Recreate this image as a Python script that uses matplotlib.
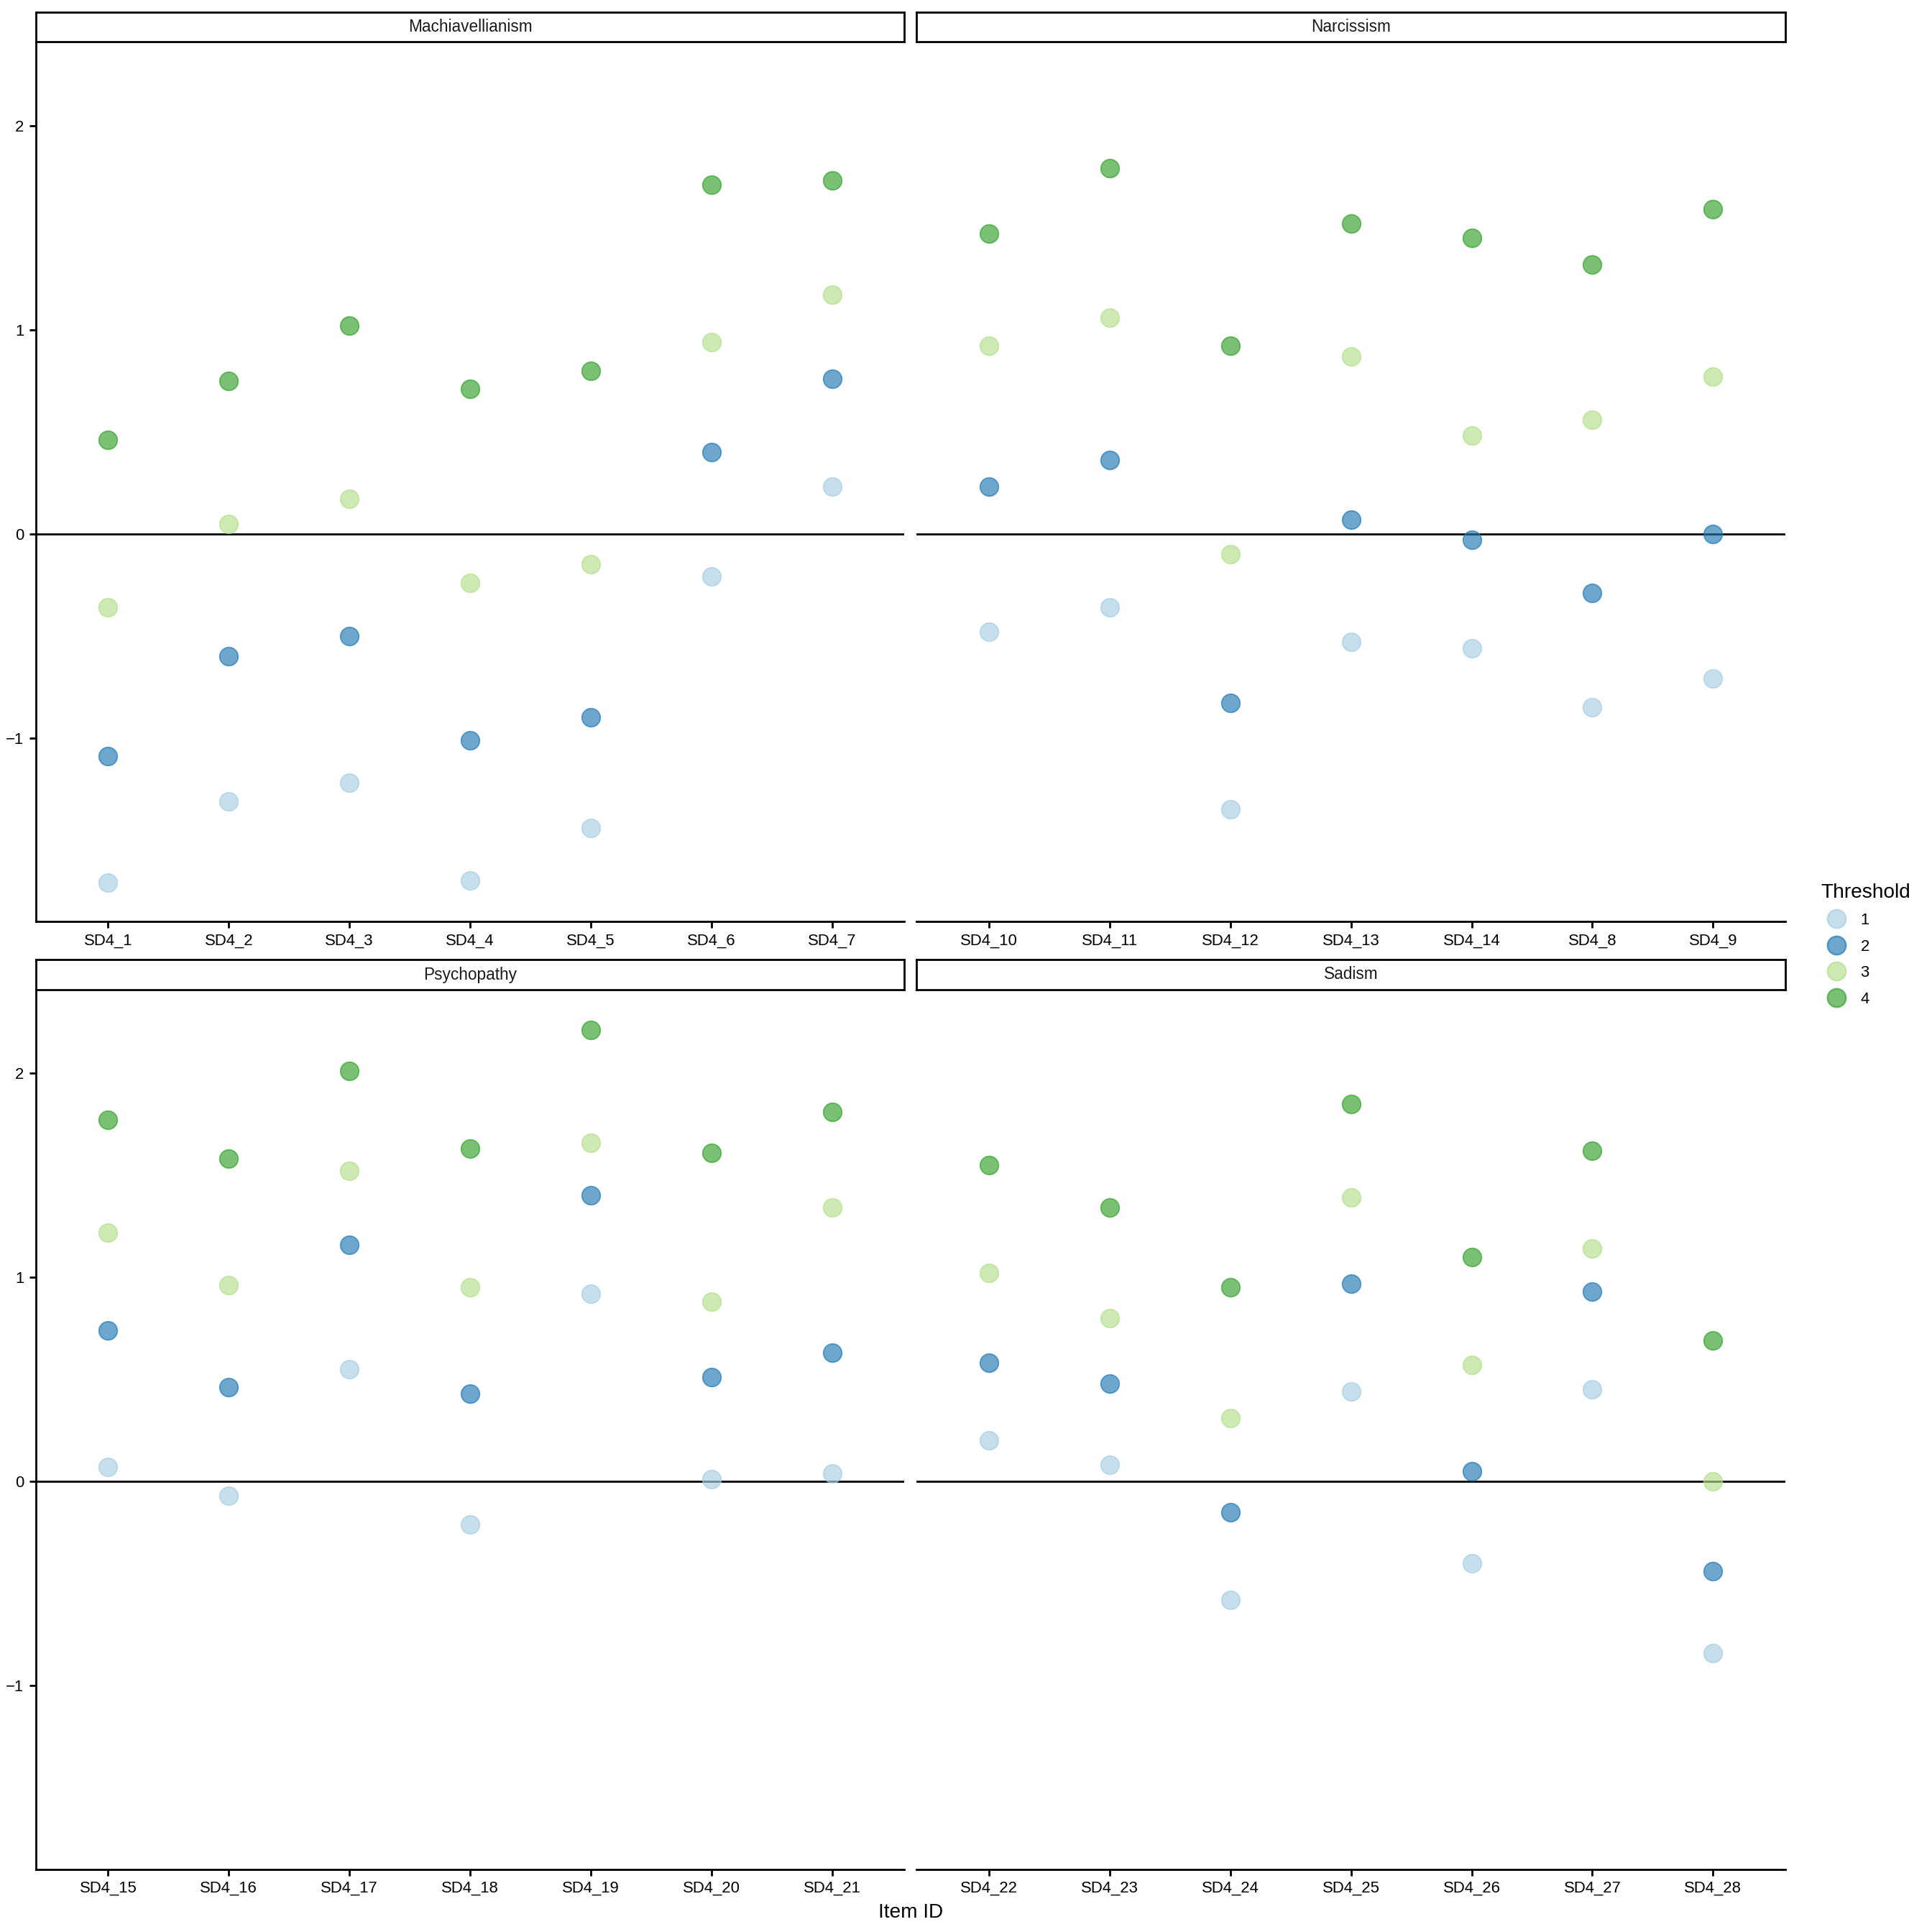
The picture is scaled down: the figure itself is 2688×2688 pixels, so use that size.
import matplotlib
matplotlib.use("Agg")
import matplotlib.pyplot as plt
from matplotlib.lines import Line2D
import numpy as np

plt.rcParams['font.family'] = ['Liberation Sans', 'DejaVu Sans']

# threshold estimates per item, one list per facet (order: thresholds 1..4)
mach_items = ["SD4_1", "SD4_2", "SD4_3", "SD4_4", "SD4_5", "SD4_6", "SD4_7"]
mach_t1 = [-1.71, -1.31, -1.22, -1.70, -1.44, -0.21, 0.23]
mach_t2 = [-1.09, -0.60, -0.50, -1.01, -0.90, 0.40, 0.76]
mach_t3 = [-0.36, 0.05, 0.17, -0.24, -0.15, 0.94, 1.17]
mach_t4 = [0.46, 0.75, 1.02, 0.71, 0.80, 1.71, 1.73]

narc_items = ["SD4_10", "SD4_11", "SD4_12", "SD4_13", "SD4_14", "SD4_8", "SD4_9"]
narc_t1 = [-0.48, -0.36, -1.35, -0.53, -0.56, -0.85, -0.71]
narc_t2 = [0.23, 0.36, -0.83, 0.07, -0.03, -0.29, 0.00]
narc_t3 = [0.92, 1.06, -0.10, 0.87, 0.48, 0.56, 0.77]
narc_t4 = [1.47, 1.79, 0.92, 1.52, 1.45, 1.32, 1.59]

psyc_items = ["SD4_15", "SD4_16", "SD4_17", "SD4_18", "SD4_19", "SD4_20", "SD4_21"]
psyc_t1 = [0.07, -0.07, 0.55, -0.21, 0.92, 0.01, 0.04]
psyc_t2 = [0.74, 0.46, 1.16, 0.43, 1.40, 0.51, 0.63]
psyc_t3 = [1.22, 0.96, 1.52, 0.95, 1.66, 0.88, 1.34]
psyc_t4 = [1.77, 1.58, 2.01, 1.63, 2.21, 1.61, 1.81]

sadi_items = ["SD4_22", "SD4_23", "SD4_24", "SD4_25", "SD4_26", "SD4_27", "SD4_28"]
sadi_t1 = [0.20, 0.08, -0.58, 0.44, -0.40, 0.45, -0.84]
sadi_t2 = [0.58, 0.48, -0.15, 0.97, 0.05, 0.93, -0.44]
sadi_t3 = [1.02, 0.80, 0.31, 1.39, 0.57, 1.14, 0.00]
sadi_t4 = [1.55, 1.34, 0.95, 1.85, 1.10, 1.62, 0.69]

facets = [
    ("Machiavellianism", mach_items, [mach_t1, mach_t2, mach_t3, mach_t4]),
    ("Narcissism", narc_items, [narc_t1, narc_t2, narc_t3, narc_t4]),
    ("Psychopathy", psyc_items, [psyc_t1, psyc_t2, psyc_t3, psyc_t4]),
    ("Sadism", sadi_items, [sadi_t1, sadi_t2, sadi_t3, sadi_t4]),
]
threshold_labels = ["1", "2", "3", "4"]
colors = ["#A6CEE3", "#1F78B4", "#B2DF8A", "#33A02C"]

W = 1568.0
fig = plt.figure(figsize=(16, 16), dpi=168)

# panel boxes in reference pixel units (left, top, right, bottom)
boxes = [(29, 34, 734, 748), (744, 34, 1449, 748),
         (29, 803, 734, 1517), (744, 803, 1449, 1517)]
strip_h = 24

for i, (name, items, vals) in enumerate(facets):
    l, t, r, b = boxes[i]
    ax = fig.add_axes([l / W, 1 - b / W, (r - l) / W, (b - t) / W])
    x = np.arange(len(items))
    for k in range(4):
        ax.scatter(x, vals[k], s=120, color=colors[k], alpha=0.65,
                   edgecolor=colors[k], linewidth=0.8, zorder=3)
    ax.axhline(0, color="black", linewidth=1.2, zorder=2)
    ax.set_xlim(-0.6, len(items) - 0.4)
    ax.set_ylim(-1.90, 2.41)
    ax.set_xticks(x)
    ax.set_xticklabels(items, fontsize=9.5)
    ax.set_yticks([-1, 0, 1, 2])
    for s in ["top", "right"]:
        ax.spines[s].set_visible(False)
    ax.spines["bottom"].set_linewidth(1.2)
    ax.spines["left"].set_linewidth(1.2)
    ax.tick_params(axis="both", length=4, width=1.2, color="black",
                   labelsize=9.5, pad=3)
    if i % 2 == 1:
        ax.spines["left"].set_visible(False)
        ax.tick_params(axis="y", left=False, labelleft=False)

    # facet strip
    sax = fig.add_axes([l / W, 1 - t / W, (r - l) / W, strip_h / W])
    sax.set_xticks([])
    sax.set_yticks([])
    for s in sax.spines.values():
        s.set_linewidth(1.2)
    sax.text(0.5, 0.5, name, ha="center", va="center", fontsize=9.7,
             color="#1A1A1A", transform=sax.transAxes)

fig.text(739 / W, 1 - 1552 / W, "Item ID", ha="center", va="center", fontsize=12)

handles = [Line2D([], [], marker="o", linestyle="", markersize=11,
                  markerfacecolor=c, markeredgecolor=c, alpha=0.65)
           for c in colors]
fig.legend(handles, threshold_labels, title="Threshold", loc="upper left",
           bbox_to_anchor=(1466 / W, 1 - 705 / W), frameon=False,
           fontsize=9.5, title_fontsize=12, handletextpad=0.5,
           labelspacing=0.7, alignment="left")

fig.savefig("out.png", dpi=168)
